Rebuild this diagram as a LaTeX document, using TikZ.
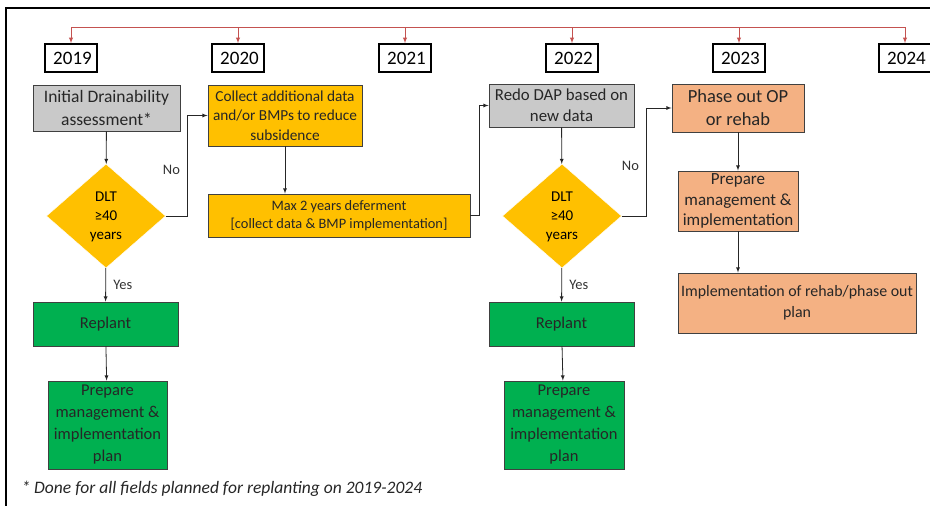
\documentclass[tikz,border=0pt]{standalone}
\usepackage{fontspec}
\setmainfont{Carlito}
\usepackage[dvipsnames,svgnames]{xcolor}
\usetikzlibrary{arrows,positioning,calc,shapes.geometric}

\definecolor{boxgrey}{RGB}{201,201,201}
\definecolor{boxamber}{RGB}{255,192,0}
\definecolor{boxgreen}{RGB}{0,176,80}
\definecolor{boxsalmon}{RGB}{244,177,131}
\definecolor{timered}{RGB}{196,82,80}
\definecolor{edgegrey}{RGB}{64,64,64}

\tikzset{
  yearbox/.style={draw=black, line width=1.6pt, minimum width=52pt, minimum height=28pt, inner sep=0pt, font=\fontsize{19}{21}\selectfont},
  stepbox/.style={draw=edgegrey, line width=0.9pt, align=center, inner sep=0pt, text=black!85},
  decision/.style={diamond, draw=white, fill=boxamber, inner sep=0pt, aspect=1.14, minimum width=119pt, minimum height=104pt, align=center, font=\fontsize{15}{19}\selectfont},
  flow/.style={->, >=latex, black!85, line width=0.8pt},
  timeline/.style={->, >=latex, timered, line width=0.9pt},
  answer/.style={font=\fontsize{14.5}{16}\selectfont, text=black!80}
}

\begin{document}
\begin{tikzpicture}[x=1pt,y=-1pt]
	\useasboundingbox (0,0) rectangle (930,506);
	% frame
	\draw [line width=1.4pt] (6,506) -- (6,8) -- (930,8);

	% years
	\foreach \yr/\xx in {2019/71,2020/238,2021/405,2022/572,2023/739,2024/905}
	  \node [yearbox] (y\yr) at (\xx,58) {\hspace{3pt}\yr};
	\draw [timered, line width=0.9pt] (y2019.north |- 0,27) -- (y2024.north |- 0,27);
	\foreach \yr in {2019,2020,2021,2022,2023,2024}
	  \draw [timeline] (y\yr.north |- 0,27) -- (y\yr.north);

	% 2019 branch
	\node [stepbox, fill=boxgrey, minimum width=147pt, minimum height=46pt, font=\fontsize{17.5}{23}\selectfont] (init) at (106.5,108) {Initial Drainability\\assessment*};
	\node [decision] (dlt1) at (106,216) {\\[-8pt]DLT\\≥40\\years};
	\node [stepbox, fill=boxgreen, minimum width=145pt, minimum height=44pt, font=\fontsize{16.5}{22}\selectfont] (replant1) at (105.5,324) {Replant};
	\node [stepbox, fill=boxgreen, minimum width=119pt, minimum height=88pt, font=\fontsize{16.5}{22}\selectfont] (prepare1) at (107.5,425) {Prepare\\management \&\\implementation\\plan};

	% deferment
	\node [stepbox, fill=boxamber, minimum width=154pt, minimum height=61pt, font=\fontsize{15.3}{19.5}\selectfont] (collect) at (285,115.5) {Collect additional data\\and/or BMPs to reduce\\subsidence};
	\node [stepbox, fill=boxamber, minimum width=262pt, minimum height=43pt, font=\fontsize{14.4}{18}\selectfont] (defer) at (339,215.5) {Max 2 years deferment\\{}[collect data \& BMP implementation]};

	% 2022 branch
	\node [stepbox, fill=boxgrey, minimum width=145pt, minimum height=43pt, font=\fontsize{16.8}{21}\selectfont] (redo) at (561.5,105.5) {Redo DAP based on\\new data};
	\node [decision] (dlt2) at (562,216) {\\[-8pt]DLT\\≥40\\years};
	\node [stepbox, fill=boxgreen, minimum width=145pt, minimum height=44pt, font=\fontsize{16.5}{22}\selectfont] (replant2) at (561.5,324) {Replant};
	\node [stepbox, fill=boxgreen, minimum width=120pt, minimum height=88pt, font=\fontsize{16.5}{22}\selectfont] (prepare2) at (564,425) {Prepare\\management \&\\implementation\\plan};

	% 2023 branch
	\node [stepbox, fill=boxsalmon, minimum width=132pt, minimum height=48pt, font=\fontsize{18.5}{23}\selectfont] (phase) at (738,108) {Phase out OP\\or rehab};
	\node [stepbox, fill=boxsalmon, minimum width=120pt, minimum height=60pt, font=\fontsize{17}{20.5}\selectfont] (prepare3) at (738,201) {Prepare\\management \&\\implementation};
	\node [stepbox, fill=boxsalmon, minimum width=238pt, minimum height=60pt, font=\fontsize{15.9}{21}\selectfont] (rehab) at (797,303) {Implementation of rehab/phase out\\plan};

	% connectors
	\draw [flow] (init) -- (dlt1);
	\draw [flow] (dlt1) -- node[answer, right=4pt] {Yes} (replant1);
	\draw [flow] (replant1) -- (prepare1);
	\draw [flow] (dlt1.east) -- ++(22,0) |- node[answer, pos=0.23, left=4pt] {No} (collect.west);
	\draw [flow] (collect.south) -- (collect.south |- defer.north);
	\draw [flow] (defer.east) -- ++(9,0) |- (redo.west);
	\draw [flow] (redo) -- (dlt2);
	\draw [flow] (dlt2) -- node[answer, right=4pt] {Yes} (replant2);
	\draw [flow] (replant2) -- (prepare2);
	\draw [flow] (dlt2.east) -- ++(25,0) |- node[answer, pos=0.23, left=4pt] {No} (phase.west);
	\draw [flow] (phase) -- (prepare3);
	\draw [flow] (prepare3.south) -- (prepare3.south |- rehab.north);

	% footnote
	\node [anchor=west, font=\fontsize{17.5}{19}\selectfont\itshape, text=black!85] (note) at (18,489) {* Done for all fields planned for replanting on 2019-2024};
\end{tikzpicture}
\end{document}
